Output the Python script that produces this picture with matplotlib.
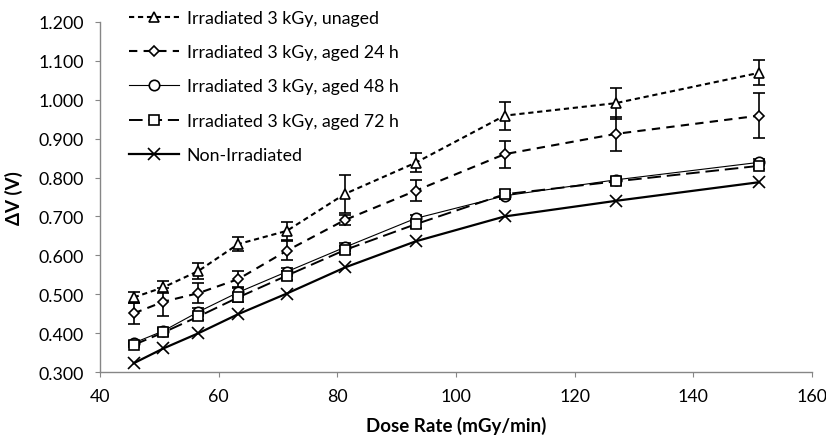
import matplotlib
matplotlib.use("Agg")
import matplotlib.pyplot as plt
from matplotlib.lines import Line2D
from matplotlib.ticker import FormatStrFormatter, MultipleLocator

plt.rcParams['font.family'] = ['Lato', 'DejaVu Sans']

dose = [45.7, 50.7, 56.6, 63.3, 71.5, 81.3, 93.2, 108.2, 126.9, 151.1]

unaged = [0.492, 0.518, 0.560, 0.629, 0.663, 0.758, 0.838, 0.959, 0.991, 1.069]
unaged_err = [0.014, 0.015, 0.020, 0.018, 0.024, 0.048, 0.025, 0.036, 0.040, 0.032]

aged24 = [0.451, 0.481, 0.503, 0.539, 0.612, 0.691, 0.766, 0.860, 0.912, 0.959]
aged24_err = [0.027, 0.036, 0.026, 0.021, 0.024, 0.012, 0.027, 0.035, 0.044, 0.057]

aged48 = [0.375, 0.406, 0.455, 0.505, 0.558, 0.621, 0.695, 0.753, 0.794, 0.839]
aged48_err = [0.006, 0.008, 0.010, 0.012, 0.010, 0.010, 0.008, 0.008, 0.008, 0.008]

aged72 = [0.370, 0.402, 0.443, 0.492, 0.548, 0.614, 0.680, 0.757, 0.790, 0.830]
aged72_err = [0.006, 0.008, 0.010, 0.012, 0.012, 0.010, 0.010, 0.010, 0.010, 0.008]

nonirr = [0.323, 0.361, 0.400, 0.449, 0.502, 0.569, 0.636, 0.700, 0.740, 0.788]

labels = ["Irradiated 3 kGy, unaged", "Irradiated 3 kGy, aged 24 h",
          "Irradiated 3 kGy, aged 48 h", "Irradiated 3 kGy, aged 72 h",
          "Non-Irradiated"]

fig = plt.figure(figsize=(8.26, 4.39), dpi=100)
ax = fig.add_axes([0.121, 0.150, 0.862, 0.798])

styles = [
    dict(marker='^', markersize=7.5, linestyle=(0, (2.5, 1.8)), linewidth=1.5),
    dict(marker='D', markersize=5.5, linestyle=(0, (4, 3)), linewidth=1.5),
    dict(marker='o', markersize=7.5, linestyle='-', linewidth=0.8),
    dict(marker='s', markersize=6.5, linestyle=(0, (7, 3)), linewidth=1.4),
    dict(marker='x', markersize=8, linestyle='-', linewidth=1.6),
]
series = [unaged, aged24, aged48, aged72, nonirr]
errs = [unaged_err, aged24_err, aged48_err, aged72_err, None]

handles = []
for y, e, st, lab in zip(series, errs, styles, labels):
    mfc = 'white' if st['marker'] != 'x' else 'black'
    if e is not None:
        ax.errorbar(dose, y, yerr=e, color='black', markerfacecolor=mfc,
                    markeredgecolor='black', markeredgewidth=1.2, ecolor='black',
                    elinewidth=1.2, capsize=4, capthick=1.2, **st)
    else:
        ax.plot(dose, y, color='black', markeredgewidth=1.2, **st)
    handles.append(Line2D([], [], color='black', markerfacecolor=mfc,
                          markeredgecolor='black', markeredgewidth=1.2, **st))

ax.set_xlim(40, 160)
ax.set_ylim(0.3, 1.2)
ax.xaxis.set_major_locator(MultipleLocator(20))
ax.yaxis.set_major_locator(MultipleLocator(0.1))
ax.yaxis.set_major_formatter(FormatStrFormatter('%.3f'))

for s in ['top', 'right']:
    ax.spines[s].set_visible(False)
for s in ['left', 'bottom']:
    ax.spines[s].set_color('#868686')
    ax.spines[s].set_linewidth(1.0)
ax.tick_params(axis='both', colors='#868686', labelcolor='black', labelsize=12.8,
               direction='out', length=3.6)
ax.tick_params(axis='x', pad=8)
ax.tick_params(axis='y', pad=8)

ax.set_xlabel('Dose Rate (mGy/min)', fontsize=13.5, fontweight='bold')
ax.set_ylabel('ΔV (V)', fontsize=13.5, fontweight='bold')
ax.xaxis.set_label_coords(0.5, -0.126)
ax.yaxis.set_label_coords(-0.108, 0.5)

ax.legend(handles, labels, loc='upper left', bbox_to_anchor=(0.018, 1.08),
          frameon=False, fontsize=12.8, handlelength=2.8, labelspacing=1.03,
          handletextpad=0.45)

fig.savefig('out.png', dpi=100)
